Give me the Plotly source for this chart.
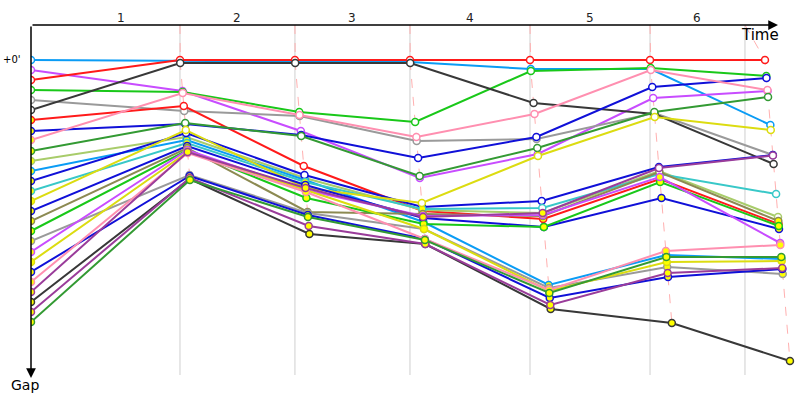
import plotly.graph_objects as go

# ---------------- data ----------------
lap_labels = ["1", "2", "3", "4", "5", "6"]
# leader cumulative time (s) at each of the 7 measuring points
leader_times = [0, 179.5, 318.0, 456.6, 601.2, 745.8, 884.3]
# time marks (gridlines), first one not drawn
time_marks = [37.3, 179.5, 318.0, 456.6, 601.2, 745.8, 860.2]
# gap (s) threshold above which a point is flagged (yellow marker)
flag_gap = [5.5, 7.5, 12.0, 14.75, 15.0, 11.5, 15.8]

colors = {
    "lightblue": "#0a9cf5", "magenta": "#c84cff", "red": "#ff1a1a", "green": "#19c819",
    "gray": "#9a9a9a", "black": "#383838", "blue": "#1010d8", "pink": "#ff8fb0",
    "forest": "#339a33", "lightgreen": "#a8cc6a", "cyan": "#38c8c8", "yellow": "#dcdc10",
    "olive": "#8c8a52", "purple": "#9a3c9a",
}

series_names = [
    "lightblue", "magenta", "red", "green", "gray", "black", "red", "blue", "pink",
    "forest", "lightgreen", "lightblue", "blue", "cyan", "yellow", "blue", "olive",
    "green", "gray", "magenta", "yellow", "blue", "pink", "purple", "black", "purple", "forest",
]

gaps = [
    [0.0, 0.1, 0.15, 0.2, 0.9, 0.9, 6.5],
    [1.0, 3.1, 7.1, 11.8, 9.4, 3.8, 3.1],
    [2.0, 0.0, 0.0, 0.0, 0.0, 0.0, 0.0],
    [3.0, 3.2, 5.2, 6.2, 1.1, 0.8, 1.6],
    [4.0, 5.1, 5.6, 8.1, 7.9, 5.3, 9.5],
    [5.0, 0.3, 0.3, 0.3, 4.3, 5.4, 10.4],
    [6.0, 4.6, 10.6, 15.1, 15.9, 11.9, 16.4],
    [7.1, 6.4, 7.5, 9.8, 7.7, 2.7, 1.8],
    [8.0, 3.3, 5.5, 7.7, 5.4, 1.0, 3.0],
    [9.1, 6.3, 7.6, 11.6, 8.8, 5.2, 3.7],
    [10.1, 7.7, 11.8, 15.0, 15.3, 11.1, 15.7],
    [11.1, 8.0, 12.0, 16.2, 22.5, 19.5, 19.9],
    [12.1, 7.3, 11.5, 14.7, 14.1, 10.7, 9.5],
    [13.1, 8.3, 12.2, 14.9, 14.8, 11.4, 13.4],
    [14.1, 7.0, 12.8, 14.3, 9.6, 5.7, 7.0],
    [15.1, 8.6, 12.5, 15.8, 16.7, 13.8, 16.9],
    [16.1, 8.8, 15.2, 15.4, 15.6, 11.2, 16.1],
    [17.1, 9.0, 13.8, 16.4, 16.7, 12.2, 16.6],
    [18.1, 11.5, 15.3, 16.9, 22.8, 20.7, 21.4],
    [19.2, 9.0, 13.0, 15.6, 15.5, 11.7, 18.3],
    [20.2, 9.2, 13.0, 16.9, 23.1, 20.2, 20.1],
    [21.2, 11.6, 15.5, 17.9, 23.8, 21.7, 20.9],
    [22.2, 9.3, 13.2, 17.9, 23.0, 19.1, 18.5],
    [23.2, 9.2, 12.8, 15.7, 15.3, 10.8, 9.55],
    [24.2, 11.9, 17.4, 18.4, 24.9, 26.3, 30.1],
    [25.2, 11.8, 16.6, 18.4, 24.5, 21.3, 20.8],
    [26.2, 12.0, 15.7, 18.0, 23.3, 19.7, 19.7],
]

# ---------------- figure ----------------
Y_TOP, Y_BOT = -3.5, 32.5
X_MAX = 926.5


def point_x(k, g):
    return leader_times[k] + (g if k > 0 else 0.0)


def px(t):
    return t / X_MAX


def py(g):
    return (Y_BOT - g) / (Y_BOT - Y_TOP)


fig = go.Figure()

# gridlines
for t in time_marks[1:]:
    fig.add_shape(type="line", x0=t, x1=t, y0=Y_TOP, y1=31.5, xref="x", yref="y",
                  line=dict(color="#cfcfcf", width=1), layer="below")

# dashed lap lines
for k in range(1, len(leader_times)):
    pts = sorted((g[k], point_x(k, g[k])) for g in gaps)
    xs = [time_marks[k]] + [p[1] for p in pts]
    ys = [Y_TOP] + [p[0] for p in pts]
    fig.add_trace(go.Scatter(x=xs, y=ys, mode="lines", hoverinfo="skip",
                             line=dict(color="#ffb0b0", width=1, dash="dash"), showlegend=False))

# series
for name, g in zip(series_names, gaps):
    c = colors[name]
    xs = [point_x(k, v) for k, v in enumerate(g)]
    fills = ["#ffff00" if v > flag_gap[k] else "white" for k, v in enumerate(g)]
    fig.add_trace(go.Scatter(
        x=xs, y=g, mode="lines+markers", showlegend=False,
        line=dict(color=c, width=2),
        marker=dict(size=7, color=fills, line=dict(color=c, width=1.5)),
    ))

annotations = []
# lap labels at midpoints between marks
for i, lab in enumerate(lap_labels):
    annotations.append(dict(x=px((time_marks[i] + time_marks[i + 1]) / 2), y=py(-4.25),
                            xref="paper", yref="paper", text=lab, showarrow=False,
                            yanchor="middle", xanchor="center",
                            font=dict(family="DejaVu Sans", size=12, color="#222")))
# axis arrows
annotations.append(dict(x=900, y=Y_TOP, ax=0, ay=Y_TOP, xref="x", yref="y", axref="x", ayref="y",
                        text="", showarrow=True, arrowhead=2, arrowsize=1.3, arrowwidth=1.5,
                        arrowcolor="black", standoff=0, startstandoff=0))
annotations.append(dict(x=0, y=31.8, ax=0, ay=Y_TOP, xref="x", yref="y", axref="x", ayref="y",
                        text="", showarrow=True, arrowhead=2, arrowsize=1.3, arrowwidth=1.5,
                        arrowcolor="black", standoff=0, startstandoff=0))
annotations.append(dict(x=px(878), y=py(-2.5), xref="paper", yref="paper", text="Time",
                        showarrow=False, xanchor="center", yanchor="middle",
                        font=dict(family="DejaVu Sans", size=15, color="black")))
annotations.append(dict(x=px(-7.5), y=py(32.5), xref="paper", yref="paper", text="Gap",
                        showarrow=False, xanchor="center", yanchor="middle",
                        font=dict(family="DejaVu Sans", size=14, color="black")))
annotations.append(dict(x=px(-9.5), y=py(0), xref="paper", yref="paper", text="+0'",
                        showarrow=False, xanchor="right", yanchor="middle",
                        font=dict(family="DejaVu Sans", size=10, color="black")))

fig.update_layout(
    width=800, height=400, autosize=False,
    margin=dict(l=31, r=0, t=25, b=15),
    paper_bgcolor="white", plot_bgcolor="white",
    xaxis=dict(range=[0, X_MAX], visible=False, fixedrange=True),
    yaxis=dict(range=[Y_BOT, Y_TOP], visible=False, fixedrange=True),
    annotations=annotations,
    showlegend=False,
)

fig.write_html("out.html", config={"displayModeBar": False},
               post_script="document.body.style.margin='0';document.body.style.overflow='hidden';")
